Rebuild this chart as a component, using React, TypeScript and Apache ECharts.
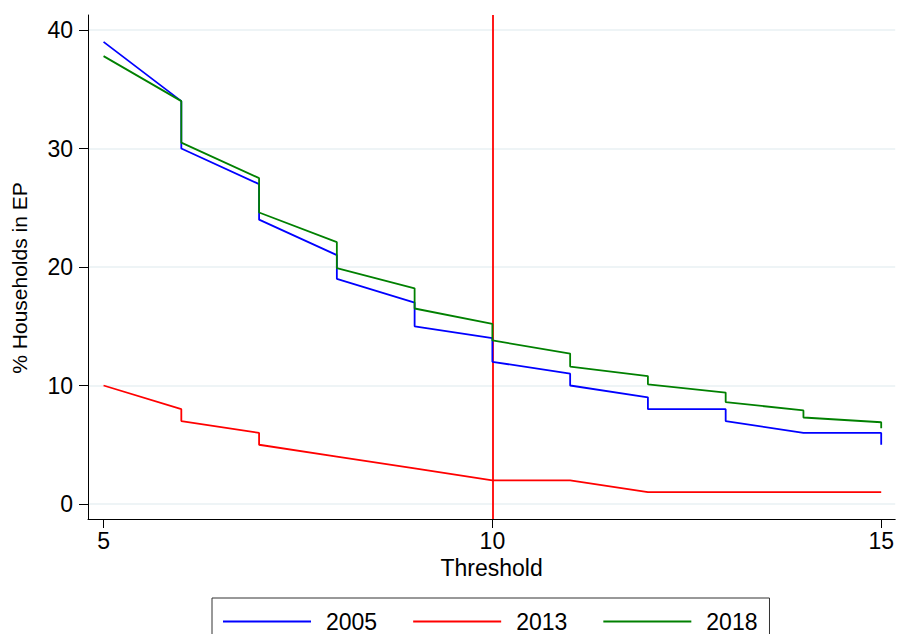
import React, { useEffect, useRef } from "react";
import * as echarts from "echarts";

const thresholds = [5, 6, 7, 8, 9, 10, 11, 12, 13, 14, 15];
// value at each threshold, approaching from the left (before the drop)
const ep2005Before = [null, 34, 27, 21, 17, 14, 11, 9, 8, 6, 6];
// value at each threshold after the drop
const ep2005After = [39, 30, 24, 19, 15, 12, 10, 8, 7, 6, 5];
const ep2013Before = [null, 8, 6, 4, 3, 2, 2, 1, 1, 1, 1];
const ep2013After = [10, 7, 5, 4, 3, 2, 2, 1, 1, 1, 1];
const ep2018Before = [null, 34, 27.5, 22.1, 18.2, 15.2, 12.7, 10.8, 9.4, 7.9, 6.9];
const ep2018After = [37.8, 30.5, 24.6, 19.9, 16.5, 13.8, 11.6, 10.1, 8.6, 7.3, 6.4];
const seriesNames = ["2005", "2013", "2018"];
const xTicks = [5, 10, 15];
const yTicks = [0, 10, 20, 30, 40];
const referenceThreshold = 10;

function buildPoints(before: (number | null)[], after: number[]) {
  const pts: number[][] = [];
  thresholds.forEach((t, i) => {
    const b = before[i];
    if (b !== null && b !== undefined) pts.push([t, b]);
    pts.push([t, after[i]]);
  });
  return pts;
}

const FONT = "'Liberation Sans', Arial, Helvetica, sans-serif";

export default function App() {
  const ref = useRef<HTMLDivElement>(null);
  useEffect(() => {
    if (!ref.current) return;
    const chart = echarts.init(ref.current, null, { renderer: "svg" });
    const lineW = 1.8;
    chart.setOption({
      animation: false,
      backgroundColor: "#ffffff",
      textStyle: { fontFamily: FONT },
      grid: { left: 88, right: 1, top: 15, bottom: 115, containLabel: false },
      xAxis: {
        type: "value",
        min: 4.8,
        max: 15.18,
        name: "Threshold",
        nameLocation: "middle",
        nameGap: 35,
        nameTextStyle: { fontSize: 23, color: "#000", fontFamily: FONT },
        axisLine: { show: true, onZero: false, lineStyle: { color: "#000", width: 1 } },
        axisTick: { show: true, length: 9, customValues: xTicks, lineStyle: { color: "#000" } },
        axisLabel: { customValues: xTicks, fontSize: 23, color: "#000", margin: 10, fontFamily: FONT },
        splitLine: { show: false },
      },
      yAxis: {
        type: "value",
        min: -1.266,
        max: 41.27,
        name: "% Households in EP",
        nameLocation: "middle",
        nameGap: 58,
        nameRotate: 90,
        nameTextStyle: { fontSize: 21, color: "#000", fontFamily: FONT, padding: [0, 22, 0, 0] },
        axisLine: { show: true, onZero: false, lineStyle: { color: "#000", width: 1 } },
        axisTick: { show: true, length: 9, customValues: yTicks, lineStyle: { color: "#000" } },
        axisLabel: { customValues: yTicks, fontSize: 23, color: "#000", margin: 15, fontFamily: FONT },
        splitLine: { show: true, lineStyle: { color: "#e9f0f3", width: 1.5 } },
      },
      legend: {
        data: seriesNames,
        left: 212,
        top: 598,
        orient: "horizontal",
        icon: "rect",
        itemWidth: 88,
        itemHeight: 2,
        itemGap: 36,
        padding: [12, 12, 20, 11],
        borderColor: "#333",
        borderWidth: 1,
        textStyle: { fontSize: 23, color: "#000", fontFamily: FONT, lineHeight: 23, padding: [0, 0, 0, 10] },
      },
      series: [
        {
          name: seriesNames[0],
          type: "line",
          data: buildPoints(ep2005Before, ep2005After),
          symbol: "none",
          lineStyle: { color: "#0000ff", width: lineW },
          itemStyle: { color: "#0000ff" },
          z: 3,
        },
        {
          name: seriesNames[1],
          type: "line",
          data: buildPoints(ep2013Before, ep2013After),
          symbol: "none",
          lineStyle: { color: "#ff0000", width: lineW },
          itemStyle: { color: "#ff0000" },
          z: 3,
          markLine: {
            silent: true,
            symbol: "none",
            label: { show: false },
            lineStyle: { color: "#ff0000", width: lineW, type: "solid" },
            data: [{ xAxis: referenceThreshold }],
            z: 2,
          },
        },
        {
          name: seriesNames[2],
          type: "line",
          data: buildPoints(ep2018Before, ep2018After),
          symbol: "none",
          lineStyle: { color: "#008000", width: lineW },
          itemStyle: { color: "#008000" },
          z: 4,
        },
      ],
    });
    return () => chart.dispose();
  }, []);
  return (
    <div
      ref={ref}
      style={{ position: "fixed", left: 0, top: 0, width: 897, height: 634, background: "#fff" }}
    />
  );
}
